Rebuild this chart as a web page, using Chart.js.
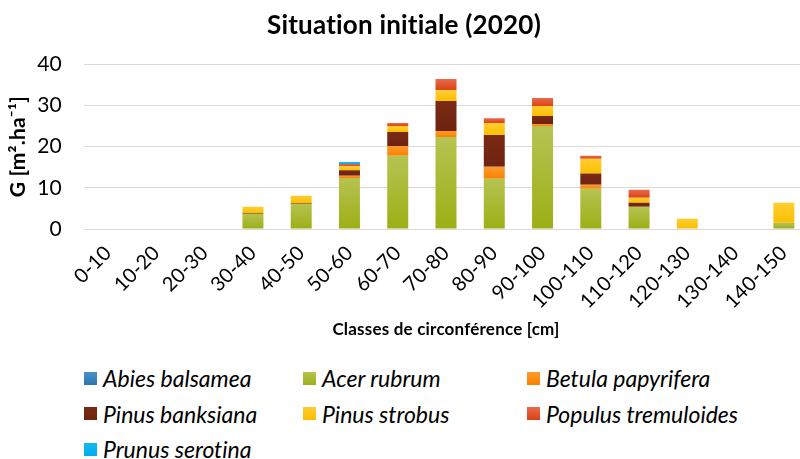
<!DOCTYPE html>
<html>
<head>
<meta charset="utf-8">
<script src="https://cdn.jsdelivr.net/npm/chart.js@4"></script>
<style>
    html, body { margin: 0; padding: 0; background: #fff; overflow: hidden; }
    #wrap { position: relative; width: 800px; height: 459px; overflow: hidden; }
    #chart { position: absolute; left: 0; top: 0; }
    #legend {
        position: absolute; left: 84px; top: 364px;
        display: grid; grid-template-columns: 219px 224px 240px;
        row-gap: 7.5px;
        font-family: Lato, sans-serif; font-style: italic; font-size: 23px; color: #000;
        font-variant-ligatures: none;
    }
    .item { display: flex; align-items: center; height: 28px; white-space: nowrap; }
    .box { width: 13px; height: 13px; margin-right: 6px; }
</style>
</head>
<body>
<div id="wrap">
    <canvas id="chart" width="808" height="360" style="width:808px;height:360px"></canvas>
    <div id="legend"></div>
</div>
<script>
// catégories de circonférence
const classes = ['0-10', '10-20', '20-30', '30-40', '40-50', '50-60', '60-70', '70-80',
    '80-90', '90-100', '100-110', '110-120', '120-130', '130-140', '140-150'];

// G [m2/ha] par essence
const abiesBalsamea    = [0, 0, 0, 0, 0, 0, 0, 0, 0, 0, 0, 0, 0, 0, 0];
const acerRubrum       = [0, 0, 0, 3.7, 6.1, 12.4, 17.8, 22.35, 12.2, 25.0, 9.75, 5.4, 0, 0, 1.5];
const betulaPapyrifera = [0, 0, 0, 0, 0, 0.55, 2.35, 1.45, 2.9, 0.5, 1.0, 0, 0, 0, 0];
const pinusBanksiana   = [0, 0, 0, 0.2, 0.2, 1.3, 3.4, 7.25, 7.7, 1.9, 2.7, 1.0, 0, 0, 0];
const pinusStrobus     = [0, 0, 0, 1.5, 1.75, 1.0, 1.45, 2.65, 2.9, 2.45, 3.6, 1.2, 2.5, 0, 4.85];
const populusTremul    = [0, 0, 0, 0, 0, 0.5, 0.7, 2.7, 1.2, 1.95, 0.75, 1.9, 0, 0, 0];
const prunusSerotina   = [0, 0, 0, 0, 0, 0.5, 0, 0, 0, 0, 0, 0, 0, 0, 0];

const yTicks = [0, 10, 20, 30, 40];

const series = [
    { label: 'Abies balsamea', data: abiesBalsamea, top: '#4a90c8', bottom: '#2e75b0' },
    { label: 'Acer rubrum', data: acerRubrum, top: '#b6c352', bottom: '#9caf14' },
    { label: 'Betula papyrifera', data: betulaPapyrifera, top: '#ff9a2e', bottom: '#f98200' },
    { label: 'Pinus banksiana', data: pinusBanksiana, top: '#7a2914', bottom: '#6e2410' },
    { label: 'Pinus strobus', data: pinusStrobus, top: '#ffcd30', bottom: '#fbbf00' },
    { label: 'Populus tremuloides', data: populusTremul, top: '#e86a4c', bottom: '#dc4214' },
    { label: 'Prunus serotina', data: prunusSerotina, top: '#18b8f2', bottom: '#00acec' }
];

// dégradé vertical par segment (plus clair en haut)
function segGradient(s, dsIndex) {
    return function (context) {
        const chart = context.chart;
        const y = chart.scales.y;
        if (!y || context.dataIndex === undefined) return s.bottom;
        let start = 0;
        for (let k = 0; k < dsIndex; k++) start += series[k].data[context.dataIndex];
        const end = start + s.data[context.dataIndex];
        const y0 = y.getPixelForValue(start);
        const y1 = y.getPixelForValue(end);
        if (!isFinite(y0) || !isFinite(y1) || y0 === y1) return s.bottom;
        const g = chart.ctx.createLinearGradient(0, y1, 0, y0);
        g.addColorStop(0, s.top);
        g.addColorStop(1, s.bottom);
        return g;
    };
}

const datasets = series.map((s, i) => ({
    label: s.label,
    data: s.data,
    backgroundColor: segGradient(s, i),
    borderWidth: 0,
    barPercentage: 0.435,
    categoryPercentage: 1.0
}));

// pas de ligatures (ti) dans le texte du canvas
const noLigatures = {
    id: 'noLigatures',
    beforeDraw(chart) {
        if ('letterSpacing' in chart.ctx) chart.ctx.letterSpacing = '0.2px';
    }
};

new Chart(document.getElementById('chart'), {
    type: 'bar',
    data: { labels: classes, datasets: datasets },
    plugins: [noLigatures],
    options: {
        responsive: false,
        animation: false,
        plugins: {
            legend: { display: false },
            tooltip: { enabled: false },
            title: {
                display: true,
                text: 'Situation initiale (2020)',
                color: '#000',
                font: { family: 'Lato', size: 26, weight: 'bold' },
                padding: { top: 10, bottom: 23 }
            }
        },
        scales: {
            x: {
                stacked: true,
                grid: { display: false },
                border: { display: false },
                ticks: {
                    color: '#000',
                    font: { family: 'Lato', size: 20 },
                    minRotation: 45,
                    maxRotation: 45,
                    padding: 4,
                    autoSkip: false
                },
                title: {
                    display: true,
                    text: 'Classes de circonférence [cm]',
                    color: '#000',
                    font: { family: 'Lato', size: 17, weight: 'bold' },
                    padding: { top: 0, bottom: 20 }
                },
                afterFit: scale => { scale.height = 131; }
            },
            y: {
                stacked: true,
                min: 0,
                max: 40,
                afterBuildTicks: scale => { scale.ticks = yTicks.map(v => ({ value: v })); },
                grid: { color: '#d9d9d9', lineWidth: 1, drawTicks: false },
                border: { display: false },
                ticks: {
                    color: '#000',
                    font: { family: 'Lato', size: 21 },
                    padding: 22
                },
                title: {
                    display: true,
                    text: 'G [m².ha⁻¹]',
                    color: '#000',
                    font: { family: 'Lato', size: 21, weight: 'bold' },
                    padding: { top: 6, bottom: 0 }
                },
                afterFit: scale => { scale.width = 84; }
            }
        }
    }
});

// légende HTML en trois colonnes
const legend = document.getElementById('legend');
series.forEach(s => {
    const item = document.createElement('div');
    item.className = 'item';
    const box = document.createElement('span');
    box.className = 'box';
    box.style.background = 'linear-gradient(' + s.top + ',' + s.bottom + ')';
    const txt = document.createElement('span');
    txt.textContent = s.label;
    item.appendChild(box);
    item.appendChild(txt);
    legend.appendChild(item);
});
</script>
</body>
</html>
